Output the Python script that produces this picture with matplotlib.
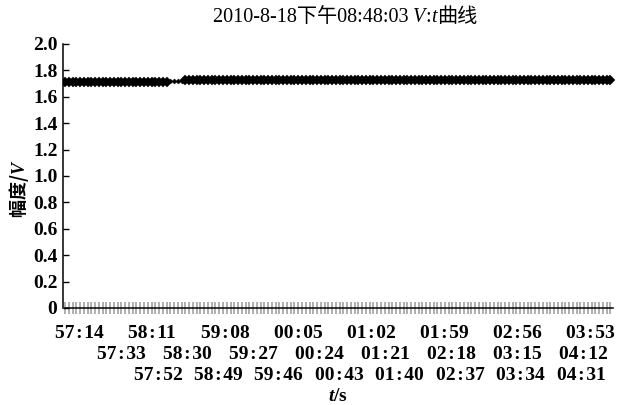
import numpy as np
import matplotlib
matplotlib.use("Agg")
import matplotlib.pyplot as plt
from matplotlib.offsetbox import TextArea, HPacker, AnchoredOffsetbox

# ─── DATA ──────────────────────────────────────────────────────────────────
# time axis labels (mm:ss), one every 19 s starting at 57:14
tick_labels = ["57:14", "57:33", "57:52", "58:11", "58:30", "58:49",
               "59:08", "59:27", "59:46", "00:05", "00:24", "00:43",
               "01:02", "01:21", "01:40", "01:59", "02:18", "02:37",
               "02:56", "03:15", "03:34", "03:53", "04:12", "04:31"]
tick_step   = 19          # s between labels
sample_step = 3           # s between samples

# amplitude: level held until seg_end (s after 57:14)
seg_end   = [81, 94, 437]
seg_level = [1.715, 1.721, 1.727]
# ────────────────────────────────────────────────────────────────────────────

W, H = 627, 405
plt.rcParams['font.family'] = ['Liberation Serif', 'Noto Sans CJK SC']
plt.rcParams['font.weight'] = 'bold'
plt.rcParams['mathtext.fontset'] = 'custom'
plt.rcParams['mathtext.rm'] = 'Liberation Serif:bold'
plt.rcParams['mathtext.it'] = 'Liberation Serif:italic:bold'

t_end = tick_step * (len(tick_labels) - 1)
t = np.arange(0, t_end + 1, sample_step)
seg = np.searchsorted(seg_end, t, side='left')
v = np.array(seg_level)[seg]

fig = plt.figure(figsize=(W / 100, H / 100), dpi=100)
ax = fig.add_axes([63 / W, 1 - 308 / H, 552 / W, 264 / H])

sizes = [5, 2.6, 5]
for k in range(len(seg_level)):
    m = seg == k
    ax.plot(t[m], v[m], ls='none', marker='D', ms=sizes[k], color='black',
            mec='black', mew=0.3)

ax.set_xlim(-1.6, t_end + 1.6)
ax.set_ylim(0, 2.0)
ax.set_yticks(np.arange(0, 2.01, 0.2))
ax.set_yticklabels(["0"] + [f"{y:.1f}" for y in np.arange(0.2, 2.01, 0.2)])
ax.tick_params(axis='y', direction='in', length=4, width=1, pad=4,
               labelsize=14)

# each sample marked on the time axis
ax.set_xticks([])
ax.set_xticks(t, minor=True)
ax.tick_params(axis='x', which='minor', direction='inout', length=8,
               width=1.3, color='#a8a8a8', labelbottom=False)
ax.tick_params(axis='x', which='major', length=0, labelbottom=False)

for s in ['top', 'right']:
    ax.spines[s].set_visible(False)
ax.spines['left'].set_linewidth(1.1)
ax.spines['bottom'].set_linewidth(1.1)
ax.spines['bottom'].set_bounds(0, t_end)
ax.spines['bottom'].set_zorder(3)

# staggered time labels, three rows
rows = [tick_labels[0::3], tick_labels[1::3], tick_labels[2::3]]
row_x = [(79, 590), (121, 583), (158, 581)]
row_base = [338, 359, 380]
for labs, (x0, x1), yb in zip(rows, row_x, row_base):
    for lab, xc in zip(labs, np.linspace(x0, x1, len(labs))):
        fig.text(xc / W, 1 - yb / H, lab.replace(":", "\u200a:\u200a"),
                 ha='center', va='baseline', fontsize=14)

fig.text(338 / W, 1 - 401 / H, "$t$/s", ha='center', va='baseline',
         fontsize=14)

ax.set_ylabel("幅度/$V$", fontfamily='Noto Sans CJK SC', fontsize=13,
              fontweight='bold')
ax.yaxis.set_label_coords((31 - 63) / 552, 0.45)

# title with italic V and t
parts = [("2010-8-18下午08:48:03 ", 'normal'), ("V", 'italic'),
         (":", 'normal'), ("t", 'italic'), ("曲线", 'normal')]
boxes = [TextArea(s, textprops=dict(fontsize=14.5, fontstyle=st,
                                    fontweight='normal'))
         for s, st in parts]
title = AnchoredOffsetbox(loc='center', child=HPacker(children=boxes, pad=0, sep=0),
                          frameon=False, pad=0, borderpad=0,
                          bbox_to_anchor=(345 / W, 1 - 17 / H),
                          bbox_transform=fig.transFigure)
fig.add_artist(title)

fig.savefig("out.png", dpi=100)
